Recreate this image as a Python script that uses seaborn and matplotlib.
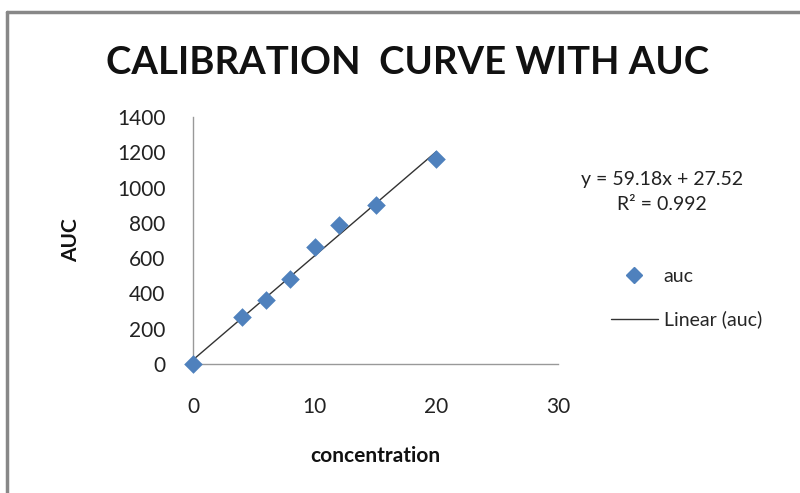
import matplotlib
matplotlib.use("Agg")
import matplotlib.pyplot as plt
import seaborn as sns
import numpy as np
import pandas as pd
from matplotlib.lines import Line2D

concentration = [0, 4, 6, 8, 10, 12, 15, 20]
auc = [0, 265, 360, 479, 661, 786, 903, 1164]
x_ticks = [0, 10, 20, 30]
y_ticks = [0, 200, 400, 600, 800, 1000, 1200, 1400]
title = "CALIBRATION  CURVE WITH AUC"
equation = "y = 59.18x + 27.52\nR² = 0.992"

df = pd.DataFrame({"concentration": concentration, "auc": auc})

sns.set_theme(style="white")
plt.rcParams['font.family'] = ['Lato', 'DejaVu Sans']

fig = plt.figure(figsize=(8, 4.93), dpi=100)
ax = fig.add_axes([0.2415, 0.2617, 0.4560, 0.5010])

blue = "#4F81BD"
sns.scatterplot(data=df, x="concentration", y="auc", marker="D", s=90,
                color=blue, edgecolor=blue, linewidth=0, ax=ax, zorder=3,
                clip_on=False)
sns.regplot(data=df, x="concentration", y="auc", scatter=False, ci=None,
            truncate=True, color="#333333", line_kws={"linewidth": 1.0},
            ax=ax)

ax.set_xlim(0, 30)
ax.set_ylim(0, 1400)
ax.set_xticks(x_ticks)
ax.set_yticks(y_ticks)
ax.tick_params(axis="both", length=0, labelsize=15, colors="#222222")
ax.tick_params(axis="x", pad=24)
ax.tick_params(axis="y", pad=20)
for s in ["top", "right"]:
    ax.spines[s].set_visible(False)
for s in ["left", "bottom"]:
    ax.spines[s].set_color("#999999")
    ax.spines[s].set_linewidth(1.0)

ax.set_xlabel("concentration", fontsize=15, fontweight="bold", labelpad=21,
              color="#111111")
ax.set_ylabel("AUC", fontsize=15, fontweight="bold", labelpad=26,
              color="#111111")

fig.text(0.51, 0.872, title, ha="center", va="center", fontsize=27.5,
         fontweight="bold", color="#111111")
fig.text(0.827, 0.61, equation, ha="center", va="center", fontsize=14,
         linespacing=1.55, color="#222222")

handles = [Line2D([], [], marker="D", color=blue, linestyle="none",
                  markersize=8),
           Line2D([], [], color="#333333", linewidth=1.0)]
fig.legend(handles, ["auc", "Linear (auc)"], loc="center left",
           bbox_to_anchor=(0.742, 0.395), frameon=False, fontsize=14,
           labelspacing=1.3, handlelength=2.4, handletextpad=0.3)

# outer border (top and left visible)
fig.add_artist(Line2D([0.009, 0.009], [0.0, 0.976], color="#888888",
                      linewidth=2.5, transform=fig.transFigure))
fig.add_artist(Line2D([0.009, 1.0], [0.976, 0.976], color="#888888",
                      linewidth=2.5, transform=fig.transFigure))

fig.savefig("out.png", dpi=100)
